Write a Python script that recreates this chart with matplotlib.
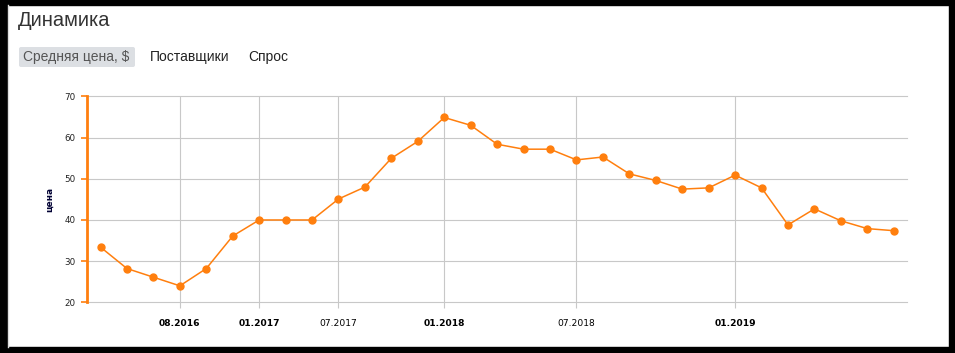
import matplotlib
matplotlib.use("Agg")
import matplotlib.pyplot as plt
from matplotlib.patches import Rectangle, FancyBboxPatch

values = [33.4, 28.2, 26.1, 24.0, 28.2, 36.1, 40.0, 40.0, 40.0, 45.1,
          48.0, 55.0, 59.1, 64.9, 63.0, 58.4, 57.2, 57.2, 54.6, 55.3,
          51.2, 49.6, 47.5, 47.8, 50.9, 47.8, 38.8, 42.7, 39.8, 37.9, 37.4]
tick_idx = [3, 6, 9, 13, 18, 24]
tick_labels = ["08.2016", "01.2017", "07.2017", "01.2018", "07.2018", "01.2019"]
tick_bold = [True, True, False, True, False, True]
y_ticks = [20, 30, 40, 50, 60, 70]
tabs = ["Средняя цена, $", "Поставщики", "Спрос"]
title = "Динамика"
ylabel = "цена"

W, H = 955, 353
fig = plt.figure(figsize=(W / 100, H / 100), dpi=100)
fig.patch.set_facecolor("white")

# black frame
frame = fig.add_axes([0, 0, 1, 1])
frame.set_xlim(0, W)
frame.set_ylim(H, 0)
frame.axis("off")
frame.add_patch(Rectangle((0, 0), W, 5, color="black"))
frame.add_patch(Rectangle((0, 347), W, 6, color="black"))
frame.add_patch(Rectangle((0, 0), 7, H, color="black"))
frame.add_patch(Rectangle((949, 0), 6, H, color="black"))
frame.plot([8, 8], [5, 347], color="#dddddd", lw=1)

frame.text(18, 20, title, fontsize=14.5, color="#333333", va="center", ha="left",
           family="Liberation Sans")
frame.add_patch(FancyBboxPatch((19, 47), 116, 20, boxstyle="round,pad=0,rounding_size=2",
                               fc="#dcdfe3", ec="none"))
tab_x = [23, 150, 248]
for tx, t, c in zip(tab_x, tabs, ["#555555", "#222222", "#222222"]):
    frame.text(tx, 57.5, t, fontsize=10, color=c, va="center", ha="left",
               family="Liberation Sans")

frame.text(50, 199, ylabel, rotation=90, fontsize=6.5, fontweight="bold",
           color="#000033", va="center", ha="center", family="DejaVu Sans")

ax = fig.add_axes([87.3 / W, (H - 302.3) / H, (907 - 87.3) / W, (302.3 - 96.5) / H])
x = list(range(len(values)))
ax.plot(x, values, color="#ff7f0e", lw=1.1, marker="o", markersize=5,
        markerfacecolor="#ff7f0e", markeredgecolor="#ff7f0e", zorder=3)
ax.set_xlim(-0.5, len(values) - 0.5)
ax.set_ylim(20, 70)
ax.set_yticks(y_ticks)
ax.set_yticklabels([str(v) for v in y_ticks])
ax.set_xticks(tick_idx)
ax.set_xticklabels(tick_labels)
for lab, b in zip(ax.get_xticklabels(), tick_bold):
    lab.set_fontweight("bold" if b else "normal")
    lab.set_color("#000000" if b else "#222222")
for s in ["top", "right", "bottom"]:
    ax.spines[s].set_visible(False)
ax.spines["left"].set_color("#ff7f0e")
ax.spines["left"].set_linewidth(2)
ax.spines["left"].set_zorder(4)
ax.grid(True, color="#c8c8c8", lw=0.8)
for gl in ax.get_xgridlines() + ax.get_ygridlines():
    gl.set_clip_on(False)
ax.tick_params(axis="y", colors="#ff7f0e", length=4.5, width=1.2, labelsize=6.3,
               labelcolor="#222222", pad=4)
ax.tick_params(axis="x", colors="#c8c8c8", length=4, width=0.8, labelsize=6.6,
               labelcolor="#000000", pad=8)
for lab in ax.get_xticklabels() + ax.get_yticklabels():
    lab.set_family("DejaVu Sans")
ax.set_facecolor("white")

fig.savefig("out.png", dpi=100, facecolor="white")
